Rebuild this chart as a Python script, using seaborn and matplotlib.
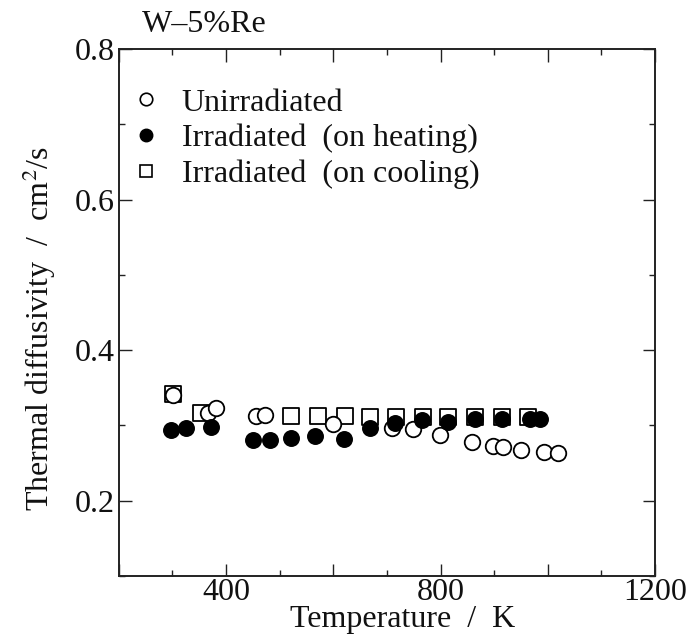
import pandas as pd
import matplotlib
matplotlib.use("Agg")
import matplotlib.pyplot as plt
import seaborn as sns
from matplotlib.ticker import MultipleLocator, FuncFormatter
from matplotlib.lines import Line2D

# Data
unirr_T = [301, 366, 381, 456, 472, 599, 709, 749, 799, 858, 898, 917, 950, 993, 1019]
unirr_a = [0.340, 0.316, 0.323, 0.312, 0.314, 0.302, 0.297, 0.295, 0.287, 0.278,
           0.273, 0.271, 0.267, 0.265, 0.263]

heat_T = [297, 325, 372, 450, 482, 521, 566, 620, 668, 715, 765, 814, 864, 915, 967, 985]
heat_a = [0.294, 0.297, 0.298, 0.281, 0.281, 0.283, 0.286, 0.282, 0.297, 0.303,
          0.307, 0.305, 0.309, 0.309, 0.309, 0.309]

cool_T = [301, 353, 521, 571, 622, 668, 717, 767, 814, 864, 915, 963]
cool_a = [0.342, 0.316, 0.312, 0.312, 0.312, 0.311, 0.311, 0.311, 0.311, 0.311,
          0.311, 0.311]

labels = ["Unirradiated", "Irradiated  (on heating)", "Irradiated  (on cooling)"]

sns.set_style("ticks")
plt.rcParams["font.family"] = ["Liberation Serif", "DejaVu Serif"]
plt.rcParams["mathtext.fontset"] = "stix"

fig = plt.figure(figsize=(6.91, 6.37), dpi=100)
ax = fig.add_axes([0.172, 0.096, 0.776, 0.827])

cool = pd.DataFrame({"T": cool_T, "a": cool_a})
unirr = pd.DataFrame({"T": unirr_T, "a": unirr_a})
heat = pd.DataFrame({"T": heat_T, "a": heat_a})

sns.scatterplot(data=cool, x="T", y="a", marker="s", s=125, facecolor="white",
                edgecolor="black", linewidth=1.3, ax=ax, zorder=3)
sns.scatterplot(data=unirr, x="T", y="a", marker="o", s=125, facecolor="white",
                edgecolor="black", linewidth=1.3, ax=ax, zorder=4)
sns.scatterplot(data=heat, x="T", y="a", marker="o", s=125, color="black",
                edgecolor="black", linewidth=1.0, ax=ax, zorder=5)

ax.set_xlim(200, 1200)
ax.set_ylim(0.1, 0.8)
ax.xaxis.set_major_locator(MultipleLocator(200))
ax.xaxis.set_minor_locator(MultipleLocator(100))
ax.xaxis.set_major_formatter(FuncFormatter(lambda v, p: f"{int(v)}" if v % 400 == 0 and v > 200 else ""))
ax.yaxis.set_major_locator(MultipleLocator(0.2))
ax.yaxis.set_minor_locator(MultipleLocator(0.1))
ax.yaxis.set_major_formatter(FuncFormatter(lambda v, p: f"{v:.1f}" if v > 0.15 else ""))

ax.tick_params(which="both", direction="in", top=True, right=True, labelsize=23,
               width=1.0, color="#222222", labelcolor="#111111")
ax.tick_params(which="major", length=9, pad=3)
ax.tick_params(axis="x", which="major", pad=1.5)
ax.tick_params(which="minor", length=4.5)
for sp in ax.spines.values():
    sp.set_linewidth(1.4)
    sp.set_color("#222222")

ax.set_xlabel("Temperature  /  K", fontsize=23, color="#111111")
ax.set_ylabel("Thermal diffusivity  /  cm$^2$/s", fontsize=23, color="#111111")
ax.xaxis.set_label_coords(0.53, -0.056)
ax.yaxis.set_label_coords(-0.113, 0.47)

fig.text(0.205, 0.949, "W\u20135%Re", fontsize=23, color="#111111", va="baseline", ha="left")

handles = [
    Line2D([], [], ls="none", marker="o", ms=9, mfc="white", mec="black", mew=1.2),
    Line2D([], [], ls="none", marker="o", ms=9, mfc="black", mec="black"),
    Line2D([], [], ls="none", marker="s", ms=9, mfc="white", mec="black", mew=1.2),
]
ax.legend(handles, labels, loc="upper left", bbox_to_anchor=(-0.014, 0.962), frameon=False,
          fontsize=23, handlelength=1.0, handletextpad=0.6, labelspacing=0.2,
          borderaxespad=0.2, labelcolor="#111111")

ax.set_xticks([200, 400, 600, 800, 1000, 1200])

fig.savefig("out.png", dpi=100)
